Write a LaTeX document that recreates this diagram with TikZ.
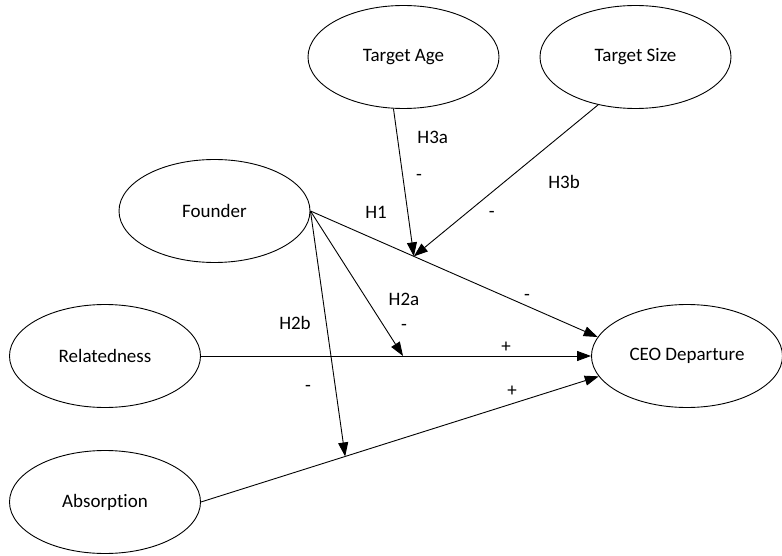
\documentclass[tikz,border=0pt]{standalone}
\usepackage{fontspec}
\setmainfont{Carlito}[Ligatures=NoCommon]
\usepackage{tikz}
\usetikzlibrary{shapes,arrows.meta,calc}
\tikzstyle{construct}=[ellipse,draw,line width=0.9pt,minimum width=191pt,
  			  minimum height=103pt,inner sep=0pt]
\tikzstyle{link}=[->,line width=0.9pt]
\tikzstyle{tag}=[inner sep=0pt]

\begin{document}
\begin{tikzpicture}[x=1pt,y=-1pt,>={Triangle[length=14pt,width=10pt]},
                    font=\fontsize{19}{23}\selectfont]
	\useasboundingbox (0,0) rectangle (782,556);

	\node[construct] (tage) at (403.5,57) {Target Age};
	\node[construct] (tsize) at (635.5,57) {Target Size};
	\node[construct] (founder) at (214.5,211) {Founder};
	\node[construct] (related) at (105,356) {Relatedness};
	\node[construct] (ceo) at (687,356) {CEO Departure};
	\node[construct] (absorb) at (105,502) {Absorption};

	% points where the moderating arrows meet the main paths
	\coordinate (j1) at ($(founder.east)!0.36!(ceo.168)$);
	\coordinate (j2) at ($(related.east)!0.518!(ceo.west)$);
	\coordinate (j3) at ($(absorb.east)!0.3625!(ceo.193)$);

	\path [link]
		(founder.east) edge (ceo.168)
		(related.east) edge (ceo.west)
		(absorb.east) edge (ceo.193)
		(tage.259) edge (j1)
		(tsize.232) edge (j1)
		(founder.east) edge (j2)
		(founder.east) edge (j3);

	\node[tag] (lh3a) at (432.7,137.3) {H3a};
	\node[tag] (sh3a) at (419,177.7) {-};
	\node[tag] (lh3b) at (564,181.7) {H3b};
	\node[tag] (sh3b) at (491.7,214) {-};
	\node[tag] (lh1) at (376,212.3) {H1};
	\node[tag] (sh1) at (527,297) {-};
	\node[tag] (lh2a) at (404,299) {H2a};
	\node[tag] (sh2a) at (404,327.7) {-};
	\node[tag] (lh2b) at (295,323) {H2b};
	\node[tag] (sh2b) at (308,388) {-};
	\node[tag] (srel) at (506,347.7) {+};
	\node[tag] (sabs) at (512,391.7) {+};
\end{tikzpicture}
\end{document}
